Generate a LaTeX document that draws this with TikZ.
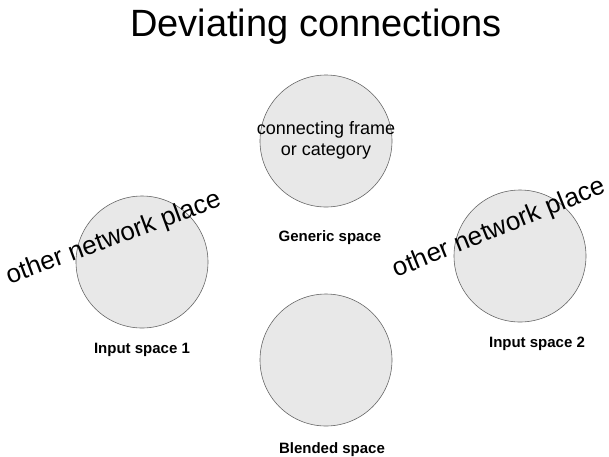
\documentclass[tikz,border=0pt]{standalone}
\usepackage{fontspec}
\setmainfont{Liberation Sans}
\begin{document}
\begin{tikzpicture}[x=1pt,y=-1pt,
  space/.style={circle,draw=black!60,line width=0.6pt,fill=black!9,
    minimum size=132pt,inner sep=0pt},
  spacename/.style={anchor=base,font=\fontsize{15}{18}\selectfont\bfseries},
  farlink/.style={anchor=base,font=\fontsize{26}{30}\selectfont},
  frametext/.style={align=center,font=\fontsize{18}{21}\selectfont}]
\useasboundingbox (0,0) rectangle (609,456);

% title
\node[anchor=base,font=\fontsize{38}{44}\selectfont] (title) at (316,36) {Deviating connections};

% the four mental spaces
\node[space] (generic) at (326,141) {};
\node[space] (input1) at (142,262) {};
\node[space] (input2) at (520,256) {};
\node[space] (blend) at (326,360) {};

% contents of the generic space
\node[frametext] (frame) at ([yshift=1pt]generic.center) {connecting frame\\or category};

% space names
\node[spacename] (genericname) at (330,241) {Generic space};
\node[spacename] (input1name) at (142,353) {Input space 1};
\node[spacename] (input2name) at (537,347) {Input space 2};
\node[spacename] (blendname) at (332,453) {Blended space};

% links reaching outside the network
\node[farlink,rotate=20.3] (other1) at (116,245) {other network place};
\node[farlink,rotate=22] (other2) at (502,235) {other network place};
\end{tikzpicture}
\end{document}
